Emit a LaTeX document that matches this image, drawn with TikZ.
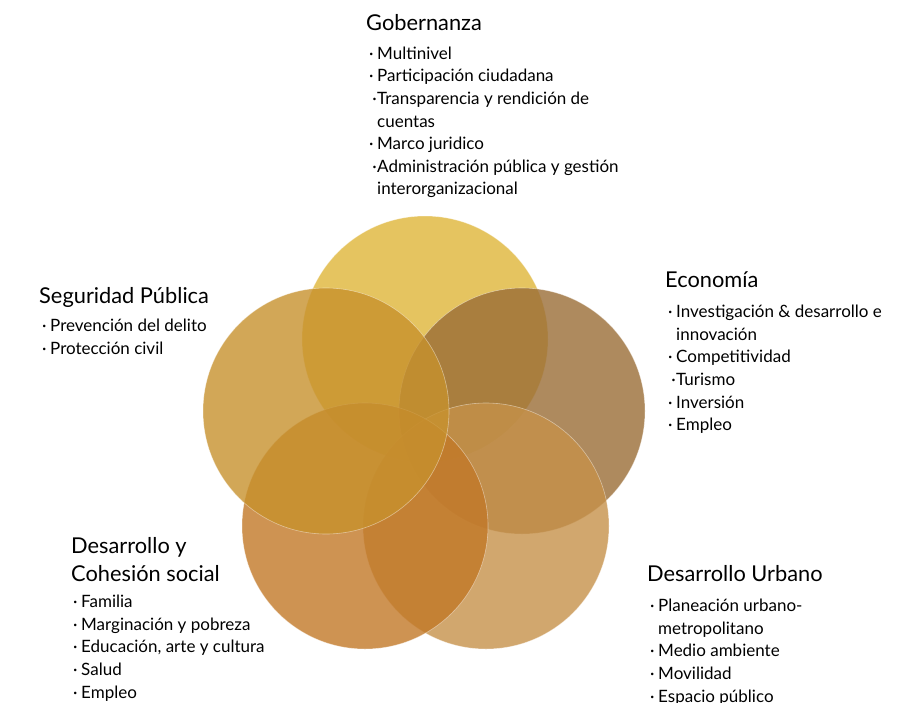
\documentclass[tikz,border=0pt]{standalone}
\usepackage{fontspec}
\setmainfont{Lato}
\newcommand\bul{\makebox[8pt][l]{·}}
\newcommand\bulc{\makebox[8pt][r]{·\hspace{0.5pt}}}
\newcommand\cont{\hspace*{8pt}}
\begin{document}
\begin{tikzpicture}[x=1pt,y=-1pt,
  ring/.style={draw=white, draw opacity=0.45, line width=0.6pt, fill opacity=0.8},
  heading/.style={anchor=base west, inner sep=0pt, font=\fontsize{21.8}{26}\selectfont},
  itemlist/.style={anchor=north west, inner sep=0pt, align=left,
    font=\fontsize{17}{22.6}\selectfont}]
\useasboundingbox (0,0) rectangle (897,702);
\definecolor{cTop}{HTML}{DFB538}
\definecolor{cLeft}{HTML}{C7912D}
\definecolor{cRight}{HTML}{9A6D36}
\definecolor{cBL}{HTML}{C27827}
\definecolor{cBR}{HTML}{C6914A}
% five overlapping circles
\path[ring, fill=cTop]   (425,339) circle (123);
\path[ring, fill=cRight] (522,411) circle (123);
\path[ring, fill=cBR]    (486,526) circle (123);
\path[ring, fill=cBL]    (365,526) circle (123);
\path[ring, fill=cLeft]  (326,411) circle (123);
% Gobernanza
\node[heading] (gobT) at (366,30) {Gobernanza};
\node[itemlist] (gobL) at (369,46.5) {\bul Multinivel\\ \bul Participación ciudadana\\ \bulc Transparencia y rendición de\\ \cont cuentas\\ \bul Marco juridico\\ \bulc Administración pública y gestión\\ \cont interorganizacional};
% Economia
\node[heading] (ecoT) at (665,287) {Economía};
\node[itemlist] (ecoL) at (668,305) {\bul Investigación \& desarrollo e\\ \cont innovación\\ \bul Competitividad\\ \bulc Turismo\\ \bul Inversión\\ \bul Empleo};
% Seguridad Publica
\node[heading] (segT) at (39,303) {Seguridad Pública};
\node[itemlist] (segL) at (42,319) {\bul Prevención del delito\\ \bul Protección civil};
% Desarrollo y Cohesion social
\node[heading] (dcsT) at (71,553) {Desarrollo y};
\node[heading] (dcsT2) at (71,581) {Cohesión social};
\node[itemlist] (dcsL) at (73,595) {\bul Familia\\ \bul Marginación y pobreza\\ \bul Educación, arte y cultura\\ \bul Salud\\ \bul Empleo};
% Desarrollo Urbano
\node[heading] (duT) at (647,581) {Desarrollo Urbano};
\node[itemlist] (duL) at (650,599) {\bul Planeación urbano-\\ \cont metropolitano\\ \bul Medio ambiente\\ \bul Movilidad\\ \bul Espacio público};
\end{tikzpicture}
\end{document}
